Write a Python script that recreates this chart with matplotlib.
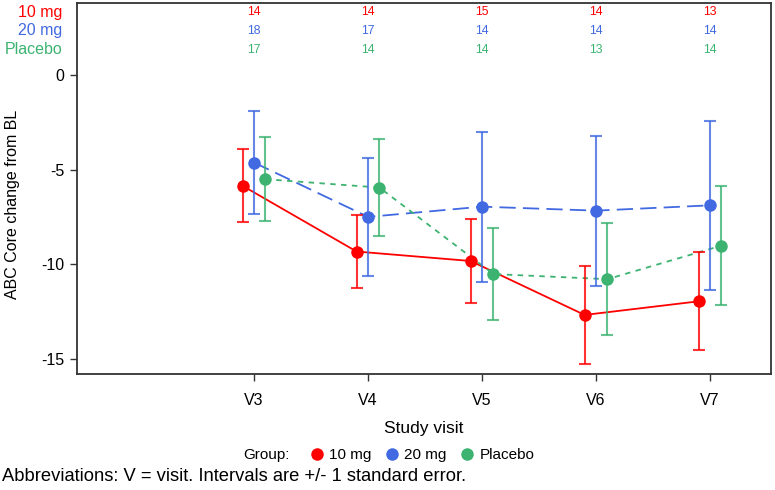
import matplotlib
matplotlib.use("Agg")
import matplotlib.pyplot as plt
from matplotlib.lines import Line2D
import numpy as np

visits = ["V3", "V4", "V5", "V6", "V7"]
groups = ["10 mg", "20 mg", "Placebo"]
mean_10 = [-5.86, -9.33, -9.83, -12.68, -11.96]
se_10 = [1.93, 1.94, 2.20, 2.57, 2.59]
mean_20 = [-4.63, -7.50, -6.96, -7.17, -6.89]
se_20 = [2.70, 3.10, 3.97, 3.97, 4.46]
mean_pl = [-5.51, -5.95, -10.52, -10.79, -9.02]
se_pl = [2.22, 2.55, 2.42, 2.97, 3.15]
n_10 = [14, 14, 15, 14, 13]
n_20 = [18, 17, 14, 14, 14]
n_pl = [17, 14, 14, 13, 14]

colors = ["#FF0000", "#4169E1", "#3CB371"]
styles = ["-", (0, (9, 4)), (0, (3, 3))]
offsets = [-0.1, 0.0, 0.1]
means = [mean_10, mean_20, mean_pl]
ses = [se_10, se_20, se_pl]
ns = [n_10, n_20, n_pl]

plt.rcParams["font.family"] = ["Liberation Sans", "DejaVu Sans"]

W, H = 775, 490
fig = plt.figure(figsize=(W / 100, H / 100), dpi=100)
ax = fig.add_axes([77 / W, 1 - 374 / H, (771 - 77) / W, (374 - 3) / H])

x = np.arange(len(visits)) + 3
for m, s, c, ls, off in zip(means, ses, colors, styles, offsets):
    xx = x + off
    ax.plot(xx, m, color=c, linestyle=ls, lw=1.3, zorder=2)
    ax.errorbar(xx, m, yerr=s, fmt="none", ecolor=c, alpha=0.8, elinewidth=1.5,
                capsize=4.5, capthick=1.5, zorder=3)
    ax.plot(xx, m, "o", color=c, markersize=9, markeredgewidth=0, zorder=4)

ax.set_xlim(1.447, 7.535)
ax.set_ylim(-15.8, 3.8)
ax.set_xticks(x)
ax.set_xticklabels(visits, fontsize=11.5)
ax.set_yticks([0, -5, -10, -15])
ax.set_yticklabels(["0", "-5", "-10", "-15"], fontsize=11.5)
ax.tick_params(length=5, width=1, color="#333333")
ax.tick_params(axis="x", pad=9)
ax.tick_params(axis="y", pad=4)
for sp in ax.spines.values():
    sp.set_linewidth(1.3)
    sp.set_color("#333333")

# N counts
ny = [3.33, 2.32, 1.32]
for n, c, yv, g in zip(ns, colors, ny, groups):
    for xi, v in zip(x, n):
        ax.text(xi, yv, str(v), color=c, fontsize=8.8, ha="center", va="center")
    fig.text(62 / W, 1 - (12 + 19 * groups.index(g)) / H, g, color=c,
             fontsize=11.5, ha="right", va="center")

fig.text(13 / W, 1 - 204 / H, "ABC Core change from BL", rotation=90,
         fontsize=11.5, ha="center", va="center")
fig.text(424 / W, 1 - 428 / H, "Study visit", fontsize=12.5, ha="center",
         va="center")

fig.text(290 / W, 1 - 455 / H, "Group:", fontsize=11, ha="right", va="center")
handles = [Line2D([], [], marker="o", color=c, linestyle="none", markersize=9,
                  markeredgewidth=0) for c in colors]
fig.legend(handles, groups, loc="center left", bbox_to_anchor=(310 / W, 1 - 455 / H),
           ncol=3, frameon=False, handlelength=0.9, handletextpad=0.35,
           columnspacing=0.9, prop={"size": 11}, borderaxespad=0, borderpad=0)

fig.text(2 / W, 1 - 476 / H,
         "Abbreviations: V = visit. Intervals are +/- 1 standard error.",
         fontsize=13.2, ha="left", va="center")

fig.savefig("out.png", dpi=100)
